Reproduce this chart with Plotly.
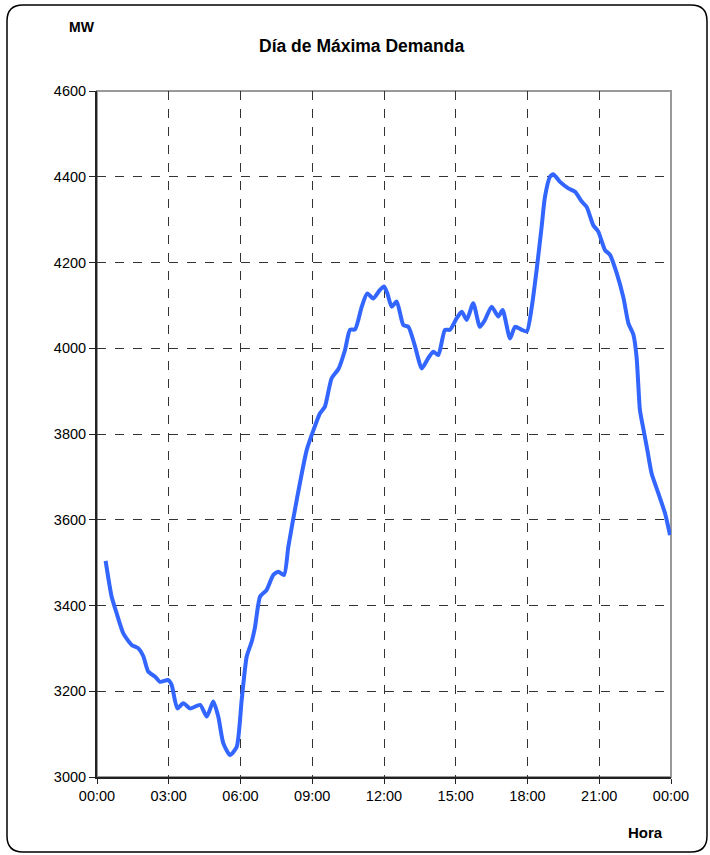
import plotly.graph_objects as go

# Hora del día (horas decimales) y demanda (MW)
hours = [0.36, 0.61, 0.82, 1.10, 1.45, 1.73, 1.94, 2.14, 2.43, 2.63, 2.98, 3.12,
         3.36, 3.61, 3.89, 4.31, 4.59, 4.86, 5.07, 5.28, 5.56, 5.84, 6.05, 6.26,
         6.47, 6.61, 6.82, 7.09, 7.37, 7.58, 7.82, 8.00, 8.35, 8.77, 9.05, 9.32,
         9.53, 9.81, 10.09, 10.37, 10.58, 10.79, 11.07, 11.30, 11.55, 11.83, 12.00,
         12.14, 12.32, 12.53, 12.81, 13.02, 13.30, 13.58, 13.85, 14.06, 14.27, 14.55,
         14.76, 15.04, 15.25, 15.46, 15.73, 16.01, 16.22, 16.50, 16.78, 16.96, 17.27,
         17.48, 17.76, 17.97, 18.18, 18.38, 18.59, 18.73, 18.94, 19.08, 19.36, 19.71,
         19.99, 20.27, 20.47, 20.75, 20.96, 21.24, 21.45, 21.73, 22.01, 22.22, 22.43,
         22.56, 22.63, 22.70, 22.84, 23.01, 23.19, 23.47, 23.75, 23.96]
demand = [3504, 3421, 3382, 3335, 3308, 3300, 3281, 3246, 3234, 3222, 3226, 3215,
          3160, 3172, 3160, 3168, 3141, 3176, 3141, 3079, 3051, 3070, 3180, 3281,
          3316, 3351, 3421, 3436, 3471, 3479, 3471, 3537, 3646, 3763, 3809, 3848,
          3864, 3930, 3951, 3996, 4043, 4044, 4097, 4128, 4116, 4136, 4144,
          4128, 4097, 4109, 4054, 4050, 4004, 3953, 3977, 3992, 3984, 4043,
          4043, 4070, 4085, 4066, 4105, 4050, 4066, 4097, 4074, 4089, 4023,
          4050, 4043, 4039, 4097, 4182, 4283, 4353, 4400, 4406, 4388, 4373,
          4365, 4342, 4330, 4287, 4272, 4229, 4218, 4175, 4118, 4058, 4031,
          3980, 3918, 3856, 3813, 3763, 3708, 3662, 3615, 3564]

tick_hours = [0, 3, 6, 9, 12, 15, 18, 21, 24]
tick_labels = ["00:00", "03:00", "06:00", "09:00", "12:00", "15:00", "18:00", "21:00", "00:00"]
y_ticks = [3000, 3200, 3400, 3600, 3800, 4000, 4200, 4400, 4600]

W, H = 710, 855
L, R, T, B = 97, 39, 91, 78
pw, ph = W - L - R, H - T - B

def px(x):
    return (x - L) / pw

def py(y):
    return (H - B - y) / ph

fig = go.Figure()
fig.add_trace(go.Scatter(
    x=hours, y=demand, mode="lines",
    line=dict(color="#3366FF", width=4, shape="spline", smoothing=0.6),
    hoverinfo="x+y", showlegend=False,
))

font = "Liberation Sans, Arial, sans-serif"
fig.update_layout(
    width=W, height=H,
    margin=dict(l=L, r=R, t=T, b=B),
    paper_bgcolor="white", plot_bgcolor="white",
    font=dict(family=font, size=14, color="black"),
    xaxis=dict(range=[0, 24], tickvals=tick_hours, ticktext=tick_labels,
               showgrid=True, gridcolor="#333333", griddash="dash", gridwidth=1,
               showline=True, linecolor="#222222", linewidth=2,
               ticks="outside", ticklen=5, tickcolor="#222222",
               zeroline=False, tickfont=dict(size=14.5)),
    yaxis=dict(range=[3000, 4600], tickvals=y_ticks,
               showgrid=True, gridcolor="#333333", griddash="dash", gridwidth=1,
               showline=True, linecolor="#222222", linewidth=2,
               ticks="outside", ticklen=6, tickcolor="#222222",
               zeroline=False, tickfont=dict(size=14.5)),
)

# plot-area border (top/right in gray)
fig.add_shape(type="rect", xref="paper", yref="paper", x0=0, x1=1, y0=0, y1=1,
              line=dict(color="#999999", width=2), layer="below")

# rounded outer frame
x0, x1, y0, y1 = px(7), px(707), py(852), py(5)
rx, ry = 16 / pw, 16 / ph
path = (f"M {x0+rx},{y0} L {x1-rx},{y0} Q {x1},{y0} {x1},{y0+ry} "
        f"L {x1},{y1-ry} Q {x1},{y1} {x1-rx},{y1} "
        f"L {x0+rx},{y1} Q {x0},{y1} {x0},{y1-ry} "
        f"L {x0},{y0+ry} Q {x0},{y0} {x0+rx},{y0} Z")
fig.add_shape(type="path", xref="paper", yref="paper", path=path,
              line=dict(color="black", width=1.5))

fig.add_annotation(x=px(361), y=py(46), xref="paper", yref="paper",
                   text="<b>Día de Máxima Demanda</b>", showarrow=False,
                   font=dict(size=17.5), xanchor="center", yanchor="middle")
fig.add_annotation(x=px(82), y=py(27), xref="paper", yref="paper",
                   text="<b>MW</b>", showarrow=False,
                   font=dict(size=14), xanchor="center", yanchor="middle")
fig.add_annotation(x=px(645), y=py(832), xref="paper", yref="paper",
                   text="<b>Hora</b>", showarrow=False,
                   font=dict(size=15), xanchor="center", yanchor="middle")

fig.write_html("out.html", config={"displayModeBar": False},
               post_script="document.body.style.margin='0';document.body.style.overflow='hidden';")
